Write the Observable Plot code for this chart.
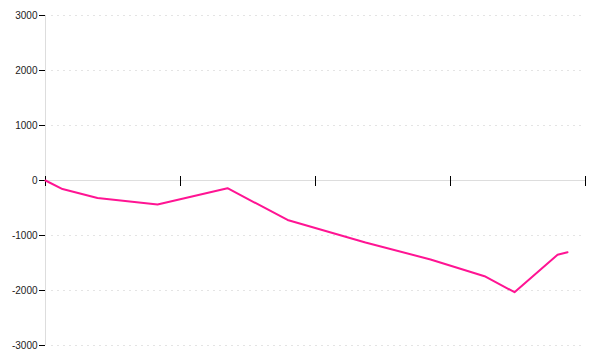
<!DOCTYPE html>
<html>
<head>
<meta charset="utf-8">
<script src="https://cdn.jsdelivr.net/npm/d3@7"></script>
<script src="https://cdn.jsdelivr.net/npm/@observablehq/plot@0.6"></script>
<style>
  html, body { margin: 0; padding: 0; background: #fff; }
</style>
</head>
<body>
<div id="chart"></div>
<script>
// Data
const xValues = [0, 0.126, 0.385, 0.83, 1.348, 1.793, 2.37, 2.852, 3.252, 3.474, 3.793, 3.867];
const yValues = [0, -155, -318, -436, -140, -718, -1127, -1436, -1740, -2031, -1351, -1304];
const xTicks = [0, 1, 2, 3, 4];
const yTicks = [-3000, -2000, -1000, 0, 1000, 2000, 3000];
const gridTicks = [-3000, -2000, -1000, 1000, 2000, 3000];

const data = xValues.map((x, i) => ({x, y: yValues[i]}));

const chart = Plot.plot({
  width: 600,
  height: 360,
  marginLeft: 45,
  marginRight: 15,
  marginTop: 15,
  marginBottom: 15,
  style: {fontFamily: "Liberation Sans", fontSize: "10px", background: "#fff"},
  x: {domain: [0, 4], axis: null},
  y: {domain: [-3000, 3000], axis: null},
  marks: [
    Plot.ruleY(gridTicks, {y: d => d, x1: () => 0, x2: () => 4, insetLeft: 6, insetRight: 2, stroke: "#e4e4e4", strokeDasharray: "2,4", strokeWidth: 1}),
    Plot.ruleX([0], {x: d => d, stroke: "#dddddd", strokeWidth: 1}),
    Plot.ruleY([0], {y: d => d, x1: () => 0, x2: () => 4, stroke: "#dddddd", strokeWidth: 1}),
    Plot.ruleX(xTicks, {x: d => d, y1: () => 0, y2: () => 0, insetTop: -4, insetBottom: -6, stroke: "#000", strokeWidth: 1}),
    Plot.axisY({ticks: yTicks, tickSize: 6, tickPadding: 2, stroke: "#000", fill: "#222", tickFormat: d => String(d), fontSize: 10, label: null}),
    Plot.line(data, {x: "x", y: "y", stroke: "#ff1493", strokeWidth: 2})
  ]
});
document.getElementById("chart").appendChild(chart);
</script>
</body>
</html>
